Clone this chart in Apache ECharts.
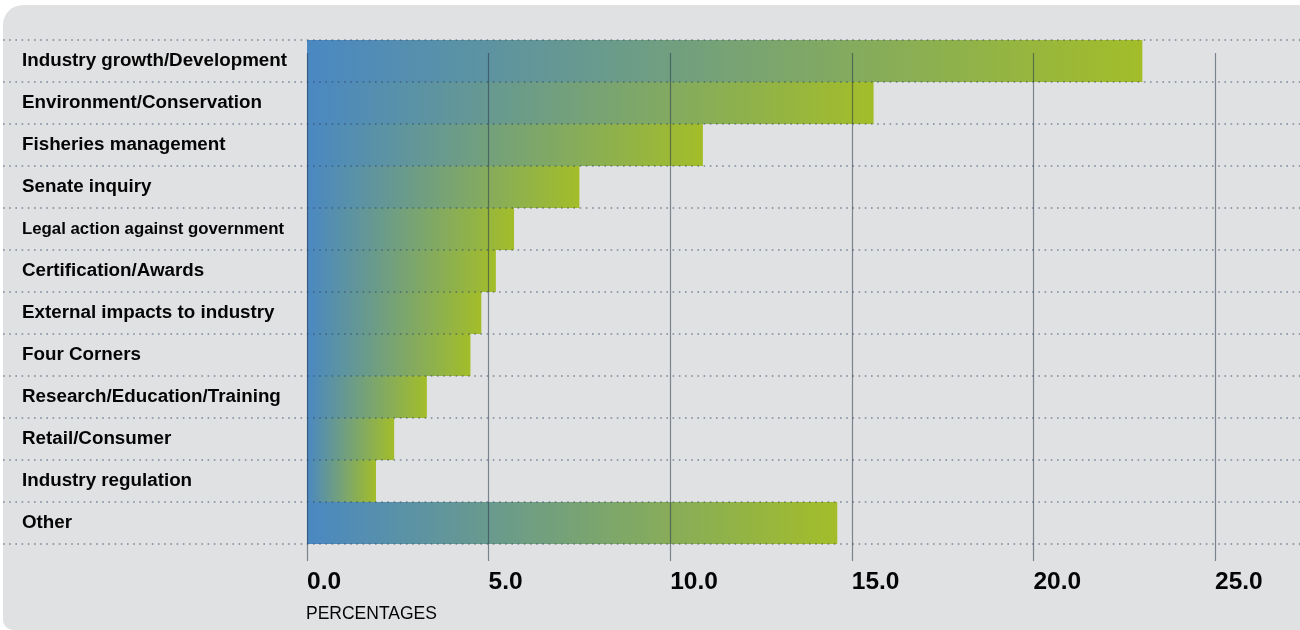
<!DOCTYPE html>
<html>
<head>
<meta charset="utf-8">
<script src="https://cdn.jsdelivr.net/npm/echarts@6/dist/echarts.min.js"></script>
<style>
  html, body { margin: 0; padding: 0; background: #ffffff; }
  #panel { position: absolute; left: 3px; top: 5px; width: 1297px; height: 625px;
           background: #e0e1e3; border-radius: 20px 0 0 10px; }
  #chart { position: absolute; left: 0; top: 0; width: 1300px; height: 630px; }
</style>
</head>
<body>
<div id="panel"></div>
<div id="chart"></div>
<script>
// Topics of media coverage, share of items (%)
const categories = [
  'Industry growth/Development',
  'Environment/Conservation',
  'Fisheries management',
  'Senate inquiry',
  'Legal action against government',
  'Certification/Awards',
  'External impacts to industry',
  'Four Corners',
  'Research/Education/Training',
  'Retail/Consumer',
  'Industry regulation',
  'Other'
];
const percentages = [23.0, 15.6, 10.9, 7.5, 5.7, 5.2, 4.8, 4.5, 3.3, 2.4, 1.9, 14.6];
const xTicks = [0, 5, 10, 15, 20, 25];
const axisTitle = 'PERCENTAGES';

const chart = echarts.init(document.getElementById('chart'), null, { renderer: 'canvas' });

const barGradient = new echarts.graphic.LinearGradient(0, 0, 1, 0, [
  { offset: 0, color: '#4a88c2' },
  { offset: 1, color: '#a3bd29' }
]);

const FONT = '"Liberation Sans", Arial, Helvetica, sans-serif';
const plotLeft = 307, plotRight = 85, plotTop = 40, plotHeight = 504;

chart.setOption({
  backgroundColor: 'transparent',
  animation: false,
  grid: [
    // bars and category labels
    { left: plotLeft, right: plotRight, top: plotTop, height: plotHeight },
    // full-width dotted row separators
    { left: 3, right: 0, top: plotTop, height: plotHeight },
    // value scale with vertical rules
    { left: plotLeft, right: plotRight, top: 53, bottom: 69 }
  ],
  xAxis: [
    { gridIndex: 0, type: 'value', min: 0, max: xTicks[xTicks.length - 1], interval: 5, show: false },
    { gridIndex: 1, type: 'value', min: 0, max: 1, show: false },
    {
      gridIndex: 2, type: 'value', min: xTicks[0], max: xTicks[xTicks.length - 1], interval: 5,
      z: 4,
      axisLine: { show: false },
      axisTick: { show: false },
      splitLine: { show: true, lineStyle: { color: 'rgba(40,55,75,0.55)', width: 1.2 } },
      axisLabel: {
        show: true, margin: 9, align: 'left', verticalAlign: 'top',
        fontFamily: FONT, fontWeight: 'bold',
        fontSize: 24.5, color: '#050505',
        formatter: v => v.toFixed(1)
      }
    }
  ],
  yAxis: [
    {
      gridIndex: 0, type: 'category', data: categories, inverse: true,
      axisLine: { show: false }, axisTick: { show: false }, splitLine: { show: false },
      axisLabel: {
        margin: plotLeft - 22, align: 'left',
        fontFamily: FONT, fontWeight: 'bold',
        fontSize: 18.8, color: '#050505',
        formatter: v => v.length > 30 ? '{s|' + v + '}' : v,
        rich: { s: { fontFamily: FONT, fontWeight: 'bold', fontSize: 16.8, color: '#050505' } }
      }
    },
    {
      gridIndex: 1, type: 'category', data: categories, inverse: true, z: 5,
      axisLine: { show: false }, axisTick: { show: false }, axisLabel: { show: false },
      splitLine: { show: true, lineStyle: { color: 'rgba(42,63,95,0.55)', width: 1.6, type: [1.6, 4.6] } }
    },
    { gridIndex: 2, type: 'value', min: 0, max: 1, show: false }
  ],
  series: [{
    type: 'bar',
    xAxisIndex: 0, yAxisIndex: 0,
    data: percentages,
    barCategoryGap: 0,
    itemStyle: { color: barGradient },
    emphasis: { disabled: true }
  }],
  graphic: [{
    type: 'text',
    left: 306, top: 605,
    style: {
      text: axisTitle,
      font: '17.5px ' + FONT,
      fill: '#050505'
    }
  }]
});
</script>
</body>
</html>
